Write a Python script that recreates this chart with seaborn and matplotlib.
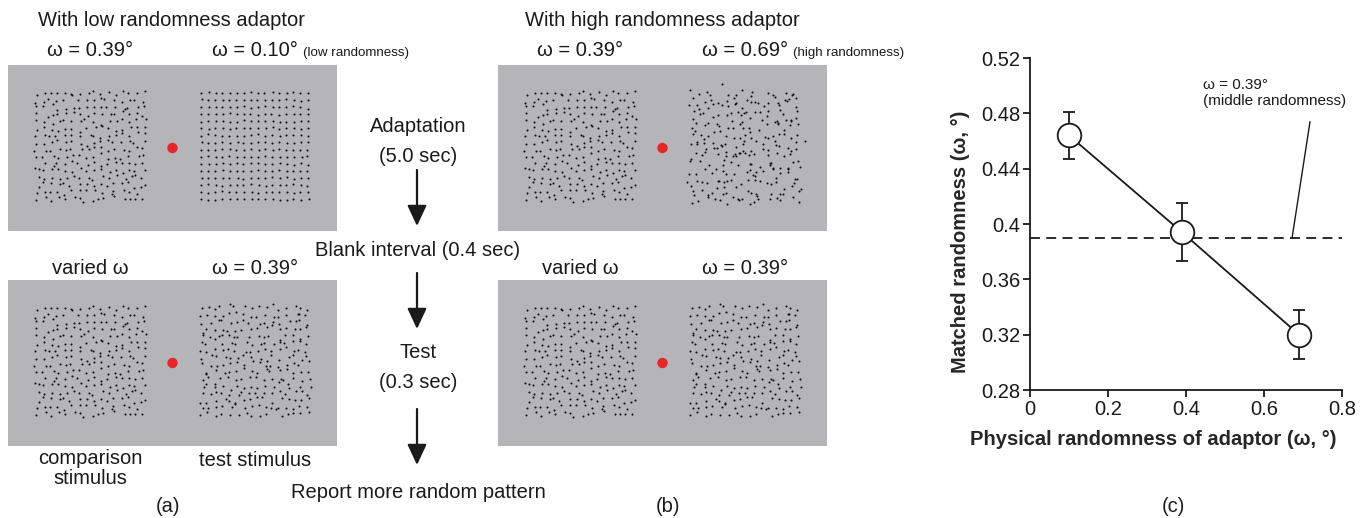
import numpy as np
import pandas as pd
import matplotlib
matplotlib.use("Agg")
import matplotlib.pyplot as plt
import seaborn as sns
from matplotlib.patches import Rectangle, Circle, FancyArrowPatch

# ---------------- Panel (c) data ----------------
adaptor_omega = [0.10, 0.39, 0.69]
matched_omega = [0.464, 0.394, 0.320]
matched_err = [0.017, 0.021, 0.0175]
reference_omega = 0.39
y_ticks = [0.28, 0.32, 0.36, 0.40, 0.44, 0.48, 0.52]
y_tick_labels = ["0.28", "0.32", "0.36", "0.4", "0.44", "0.48", "0.52"]
x_ticks = [0, 0.2, 0.4, 0.6, 0.8]
x_tick_labels = ["0", "0.2", "0.4", "0.6", "0.8"]

# ---------------- Stimulus parameters for (a)/(b) ----------------
low_adaptor_omega = 0.10
high_adaptor_omega = 0.69
test_omega = 0.39
grid_n = 16

sns.set_style("ticks")
plt.rcParams["font.family"] = ["Liberation Sans", "DejaVu Sans"]
FS = 14.5
INK = "#1a1a1a"

fig = plt.figure(figsize=(13.70, 5.18), dpi=100)

# ---------------- Schematic canvas (1 unit = 1 px) ----------------
cv = fig.add_axes([0, 0, 950 / 1370, 1])
cv.set_xlim(0, 950)
cv.set_ylim(518, 0)
cv.axis("off")

GRAY = "#b5b5b7"
RED = "#e8262a"
SPACING = 7.1      # px between grid dots
PX_PER_DEG = 4.3   # jitter scale


def dot_pattern(cx, cy, omega, seed):
    # stimulus texture: regular grid with positional jitter of SD omega
    rng = np.random.default_rng(seed)
    idx = (np.arange(grid_n) - (grid_n - 1) / 2) * SPACING
    gx, gy = np.meshgrid(idx, idx)
    jx = rng.normal(0, omega * PX_PER_DEG, gx.shape)
    jy = rng.normal(0, omega * PX_PER_DEG, gy.shape)
    return pd.DataFrame({"x": (cx + gx + jx).ravel(), "y": (cy + gy + jy).ravel()})


def stimulus(x0, y0, omega_left, omega_right, seed_left, seed_right):
    w, h = 329, 166
    cv.add_patch(Rectangle((x0, y0), w, h, facecolor=GRAY, edgecolor="none", zorder=1))
    cx = x0 + w / 2
    cy = y0 + h / 2 - 2
    for dx, om, sd in [(-82, omega_left, seed_left), (82, omega_right, seed_right)]:
        df = dot_pattern(cx + dx, cy, om, sd)
        sns.scatterplot(data=df, x="x", y="y", ax=cv, s=2.2, color="#111111",
                        linewidth=0, legend=False, zorder=2)
    cv.add_patch(Circle((cx, y0 + h / 2), 5.2, facecolor=RED, edgecolor="none", zorder=3))


# panel (a)
stimulus(8, 65, test_omega, low_adaptor_omega, 7, 11)
stimulus(8, 280, test_omega, test_omega, 7, 23)
# panel (b)
stimulus(498, 65, test_omega, high_adaptor_omega, 7, 31)
stimulus(498, 280, test_omega, test_omega, 7, 23)

cv.set_xlabel("")
cv.set_ylabel("")


def txt(x, y, s, size=FS, **kw):
    cv.text(x, y, s, fontsize=size, ha=kw.pop("ha", "center"), va=kw.pop("va", "center"),
            color=INK, **kw)


for off, title, adapt_lbl, note in [(0, "With low randomness adaptor", "ω = 0.10°", "(low randomness)"),
                                     (490, "With high randomness adaptor", "ω = 0.69°", "(high randomness)")]:
    txt(172 + off, 20, title)
    txt(90 + off, 51, "ω = 0.39°")
    txt(298 + off, 51, adapt_lbl, ha="right")
    txt(303 + off, 53, note, size=9.6, ha="left")
    txt(90 + off, 268, "varied ω")
    txt(255 + off, 268, "ω = 0.39°")

txt(90, 458, "comparison")
txt(90, 479, "stimulus")
txt(255, 461, "test stimulus")
txt(168, 507, "(a)")
txt(668, 507, "(b)")

# flow column
txt(418, 126, "Adaptation")
txt(418, 156, "(5.0 sec)")
txt(418, 250, "Blank interval (0.4 sec)")
txt(418, 353, "Test")
txt(418, 383, "(0.3 sec)")
txt(418, 492, "Report more random pattern")
for y0, y1 in [(170, 226), (273, 329), (409, 465)]:
    cv.add_patch(FancyArrowPatch((417, y0), (417, y1),
                                 arrowstyle="-|>,head_length=0.9,head_width=0.42",
                                 mutation_scale=14, color=INK, lw=1.6,
                                 shrinkA=0, shrinkB=0))

# ---------------- Panel (c) ----------------
ax = fig.add_axes([1030 / 1370, 1 - 390 / 518, 312 / 1370, 332 / 518])
dfc = pd.DataFrame({"adaptor": adaptor_omega, "matched": matched_omega, "err": matched_err})
ax.errorbar(dfc["adaptor"], dfc["matched"], yerr=dfc["err"], fmt="none",
            ecolor=INK, elinewidth=1.3, capsize=4, capthick=1.3, zorder=2)
sns.lineplot(data=dfc, x="adaptor", y="matched", ax=ax, color=INK, lw=1.3,
             marker="o", markersize=17, markerfacecolor="white",
             markeredgecolor=INK, markeredgewidth=1.3, zorder=3, clip_on=False)
ax.axhline(reference_omega, color=INK, lw=1.3, ls=(0, (5.5, 3.5)), zorder=1)

ax.set_xlim(0, 0.8)
ax.set_ylim(0.28, 0.52)
ax.set_xticks(x_ticks)
ax.set_xticklabels(x_tick_labels)
ax.set_yticks(y_ticks)
ax.set_yticklabels(y_tick_labels)
sns.despine(ax=ax)
for sp in ["left", "bottom"]:
    ax.spines[sp].set_linewidth(1.3)
    ax.spines[sp].set_color(INK)
ax.tick_params(direction="out", length=5, width=1.3, labelsize=FS, colors=INK, pad=2)
ax.set_xlabel("Physical randomness of adaptor (ω, °)", fontsize=FS, fontweight="bold")
ax.set_ylabel("Matched randomness (ω, °)", fontsize=FS, fontweight="bold")
ax.xaxis.set_label_coords(0.394, -0.148, transform=ax.transAxes)
ax.xaxis.label.set_va("center")
ax.yaxis.set_label_coords(-69 / 312, 0.446, transform=ax.transAxes)
ax.yaxis.label.set_va("center")

ax.text(0.444, 0.4945, "ω = 0.39°\n(middle randomness)", fontsize=11, ha="left", va="center",
        linespacing=1.15, color=INK)
ax.annotate("", xy=(0.672, 0.390), xytext=(0.718, 0.474),
            arrowprops=dict(arrowstyle="-", lw=1.0, color=INK, shrinkA=0, shrinkB=0))

fig.text(1173 / 1370, 1 - 507 / 518, "(c)", fontsize=FS, ha="center", va="center", color=INK)

fig.savefig("out.png", dpi=100, facecolor="white")
